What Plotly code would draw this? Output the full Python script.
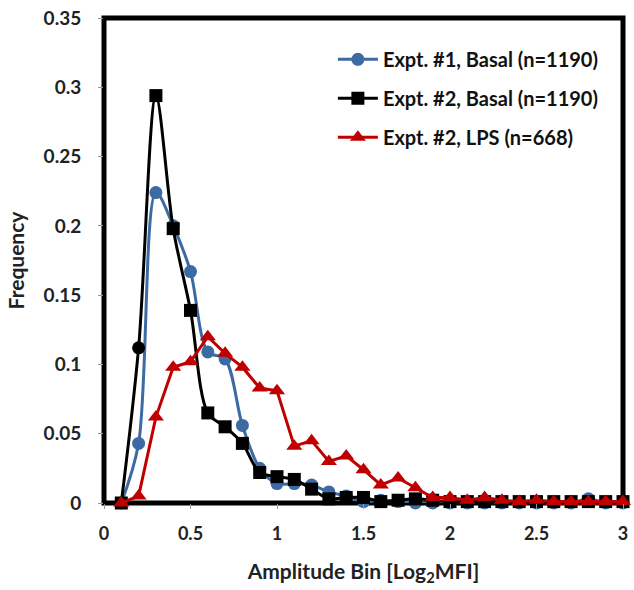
import plotly.graph_objects as go

bins = [0.1, 0.2, 0.3, 0.4, 0.5, 0.6, 0.7, 0.8, 0.9, 1.0,
        1.1, 1.2, 1.3, 1.4, 1.5, 1.6, 1.7, 1.8, 1.9, 2.0,
        2.1, 2.2, 2.3, 2.4, 2.5, 2.6, 2.7, 2.8, 2.9, 3.0]

expt1_basal = [0, 0.043, 0.224, 0.200, 0.167, 0.109, 0.104, 0.056, 0.025, 0.014,
               0.014, 0.013, 0.008, 0.005, 0.001, 0.002, 0.001, 0, 0, 0,
               0, 0, 0, 0, 0, 0, 0, 0.003, 0, 0]

expt2_basal = [0, 0.112, 0.294, 0.198, 0.139, 0.065, 0.055, 0.043, 0.022, 0.019,
               0.017, 0.010, 0.003, 0.004, 0.004, 0.001, 0.002, 0.003, 0.002, 0.001,
               0.001, 0.001, 0.001, 0.001, 0.001, 0.001, 0.001, 0.001, 0.001, 0.001]

expt2_lps = [0, 0.005, 0.062, 0.098, 0.102, 0.120, 0.108, 0.098, 0.083, 0.081,
             0.041, 0.045, 0.030, 0.034, 0.024, 0.013, 0.018, 0.011, 0.004, 0.004,
             0.002, 0.004, 0.002, 0.001, 0.002, 0.001, 0.001, 0.001, 0.001, 0.001]

names = ["Expt. #1, Basal (n=1190)", "Expt. #2, Basal (n=1190)", "Expt. #2, LPS (n=668)"]
x_ticks = [0, 0.5, 1, 1.5, 2, 2.5, 3]
y_ticks = [0, 0.05, 0.1, 0.15, 0.2, 0.25, 0.3, 0.35]
y_tick_text = ["0", "0.05", "0.1", "0.15", "0.2", "0.25", "0.3", "0.35"]
x_tick_text = ["0", "0.5", "1", "1.5", "2", "2.5", "3"]

BLUE = "#3c6aa3"
RED = "#c00000"
FONT = "Lato"

fig = go.Figure()

fig.add_trace(go.Scatter(
    x=bins, y=expt1_basal, name=names[0], mode="lines+markers", legendgroup="a",
    line=dict(color=BLUE, width=3, shape="spline", smoothing=0.9),
    marker=dict(symbol="circle", size=13, color=BLUE),
    cliponaxis=False))

black_symbols = ["square"] * len(bins)
black_symbols[1] = "circle"
fig.add_trace(go.Scatter(
    x=bins, y=expt2_basal, name=names[1], mode="lines+markers", legendgroup="b",
    line=dict(color="black", width=3, shape="spline", smoothing=0.9),
    marker=dict(symbol=black_symbols, size=13, color="black"),
    cliponaxis=False))

fig.add_trace(go.Scatter(
    x=bins, y=expt2_lps, name=names[2], mode="lines+markers", legendgroup="c",
    line=dict(color=RED, width=3),
    marker=dict(symbol="triangle-up", size=14, color=RED),
    cliponaxis=False))

fig.add_shape(type="rect", xref="paper", yref="paper", x0=0, x1=1, y0=0, y1=1,
              line=dict(color="black", width=5), layer="below")

fig.update_layout(
    width=634, height=590,
    margin=dict(l=104, r=6, t=16, b=87),
    paper_bgcolor="white", plot_bgcolor="white",
    font=dict(family=FONT, color="#222222"),
    showlegend=True,
    legend=dict(x=0.441, y=0.955, xanchor="left", yanchor="top",
                font=dict(family=FONT, size=20, color="#111111", weight="bold"),
                bgcolor="rgba(0,0,0,0)", itemwidth=40, tracegroupgap=10),
    xaxis=dict(range=[0, 3], tickmode="array", tickvals=x_ticks, ticktext=x_tick_text,
               showgrid=False, zeroline=False, ticks="outside", ticklen=5,
               tickcolor="#999999", showline=False,
               tickfont=dict(family=FONT, size=18, color="#222222", weight="bold"),
               ticklabelstandoff=9,
               title=dict(text="Amplitude Bin [Log<sub>2</sub>MFI]", standoff=21,
                          font=dict(family=FONT, size=21, color="#222222", weight="bold"))),
    yaxis=dict(range=[0, 0.35], tickmode="array", tickvals=y_ticks, ticktext=y_tick_text,
               showgrid=False, zeroline=False, ticks="outside", ticklen=5,
               tickcolor="#999999", showline=False,
               tickfont=dict(family=FONT, size=19, color="#222222", weight="bold"),
               ticklabelstandoff=13,
               title=dict(text="Frequency", standoff=13,
                          font=dict(family=FONT, size=21, color="#222222", weight="bold"))),
)

fig.write_html("out.html")
